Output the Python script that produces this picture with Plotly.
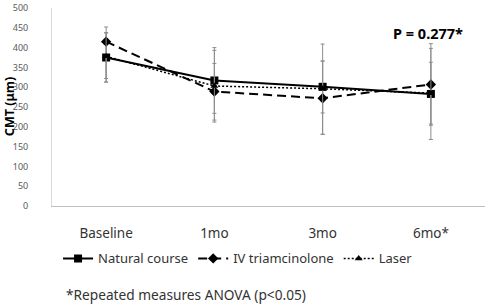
import plotly.graph_objects as go

categories = ["Baseline", "1mo", "3mo", "6mo*"]

natural_course = [375, 317, 301, 283]
natural_err_up = [62, 83, 108, 115]
natural_err_down = [62, 83, 120, 115]

iv_triamcinolone = [415, 289, 272, 307]
iv_err_up = [37, 71, 94, 103]
iv_err_down = [93, 72, 91, 103]

laser = [378, 303, 296, 285]
laser_err_up = [60, 90, 70, 78]
laser_err_down = [65, 91, 61, 78]

y_ticks = [0, 50, 100, 150, 200, 250, 300, 350, 400, 450, 500]

FONT = "Noto Sans"
err_color = "#8c8c8c"

fig = go.Figure()

def add_series(name, y, up, down, dash, symbol, size, width):
    fig.add_trace(go.Scatter(
        x=categories, y=y, name=name, mode="lines+markers",
        line=dict(color="black", width=width, dash=dash),
        marker=dict(symbol=symbol, size=size, color="black"),
        error_y=dict(type="data", symmetric=False, array=up, arrayminus=down,
                     color=err_color, thickness=1, width=2),
    ))

add_series("Natural course", natural_course, natural_err_up, natural_err_down, "solid", "square", 8, 2)
add_series("IV triamcinolone", iv_triamcinolone, iv_err_up, iv_err_down, "9px,5px", "diamond", 8, 2)
add_series("Laser", laser, laser_err_up, laser_err_down, "2px,2px", "triangle-up", 7, 1.5)

fig.update_layout(
    width=489, height=307,
    margin=dict(l=52, r=4, t=8, b=101, autoexpand=False),
    paper_bgcolor="white", plot_bgcolor="white",
    font=dict(family=FONT, size=11, color="#404040"),
    showlegend=True,
    legend=dict(orientation="h", x=0.014, xanchor="left", y=-0.265, yanchor="middle",
                font=dict(family=FONT, size=13, color="#333333"),
                itemwidth=30, tracegroupgap=0, bgcolor="rgba(0,0,0,0)"),
)

fig.update_xaxes(
    type="category", categoryorder="array", categoryarray=categories,
    range=[-0.5, 3.5], automargin=False,
    showline=True, linecolor="#bfbfbf", linewidth=1,
    showgrid=False, zeroline=False,
    ticks="outside", ticklen=15, tickcolor="rgba(0,0,0,0)",
    tickfont=dict(family=FONT, size=13.5, color="#333333"),
)

fig.update_yaxes(
    range=[0, 500], tickvals=y_ticks, automargin=False,
    showline=True, linecolor="#d9d9d9", linewidth=1,
    showgrid=False, zeroline=False,
    ticks="outside", ticklen=21, tickcolor="rgba(0,0,0,0)",
    tickfont=dict(family=FONT, size=9, color="#595959"),
)

fig.add_annotation(text="<b>CMT (μm)</b>", xref="paper", yref="paper",
                   x=-0.099, y=0.5, xanchor="center", yanchor="middle",
                   textangle=-90, showarrow=False,
                   font=dict(family=FONT, size=12.5, color="black"))

fig.add_annotation(text="<b>P = 0.277*</b>", xref="paper", yref="paper",
                   x=0.868, y=0.876, xanchor="center", yanchor="middle",
                   showarrow=False,
                   font=dict(family=FONT, size=14.5, color="black"))

fig.add_annotation(text="*Repeated measures ANOVA (p<0.05)", xref="paper", yref="paper",
                   x=0.028, xanchor="left", y=-0.447, yanchor="middle",
                   showarrow=False,
                   font=dict(family=FONT, size=13.7, color="#333333"))

fig.write_html("out.html", config={"displayModeBar": False},
               post_script="document.body.style.margin='0px';")
